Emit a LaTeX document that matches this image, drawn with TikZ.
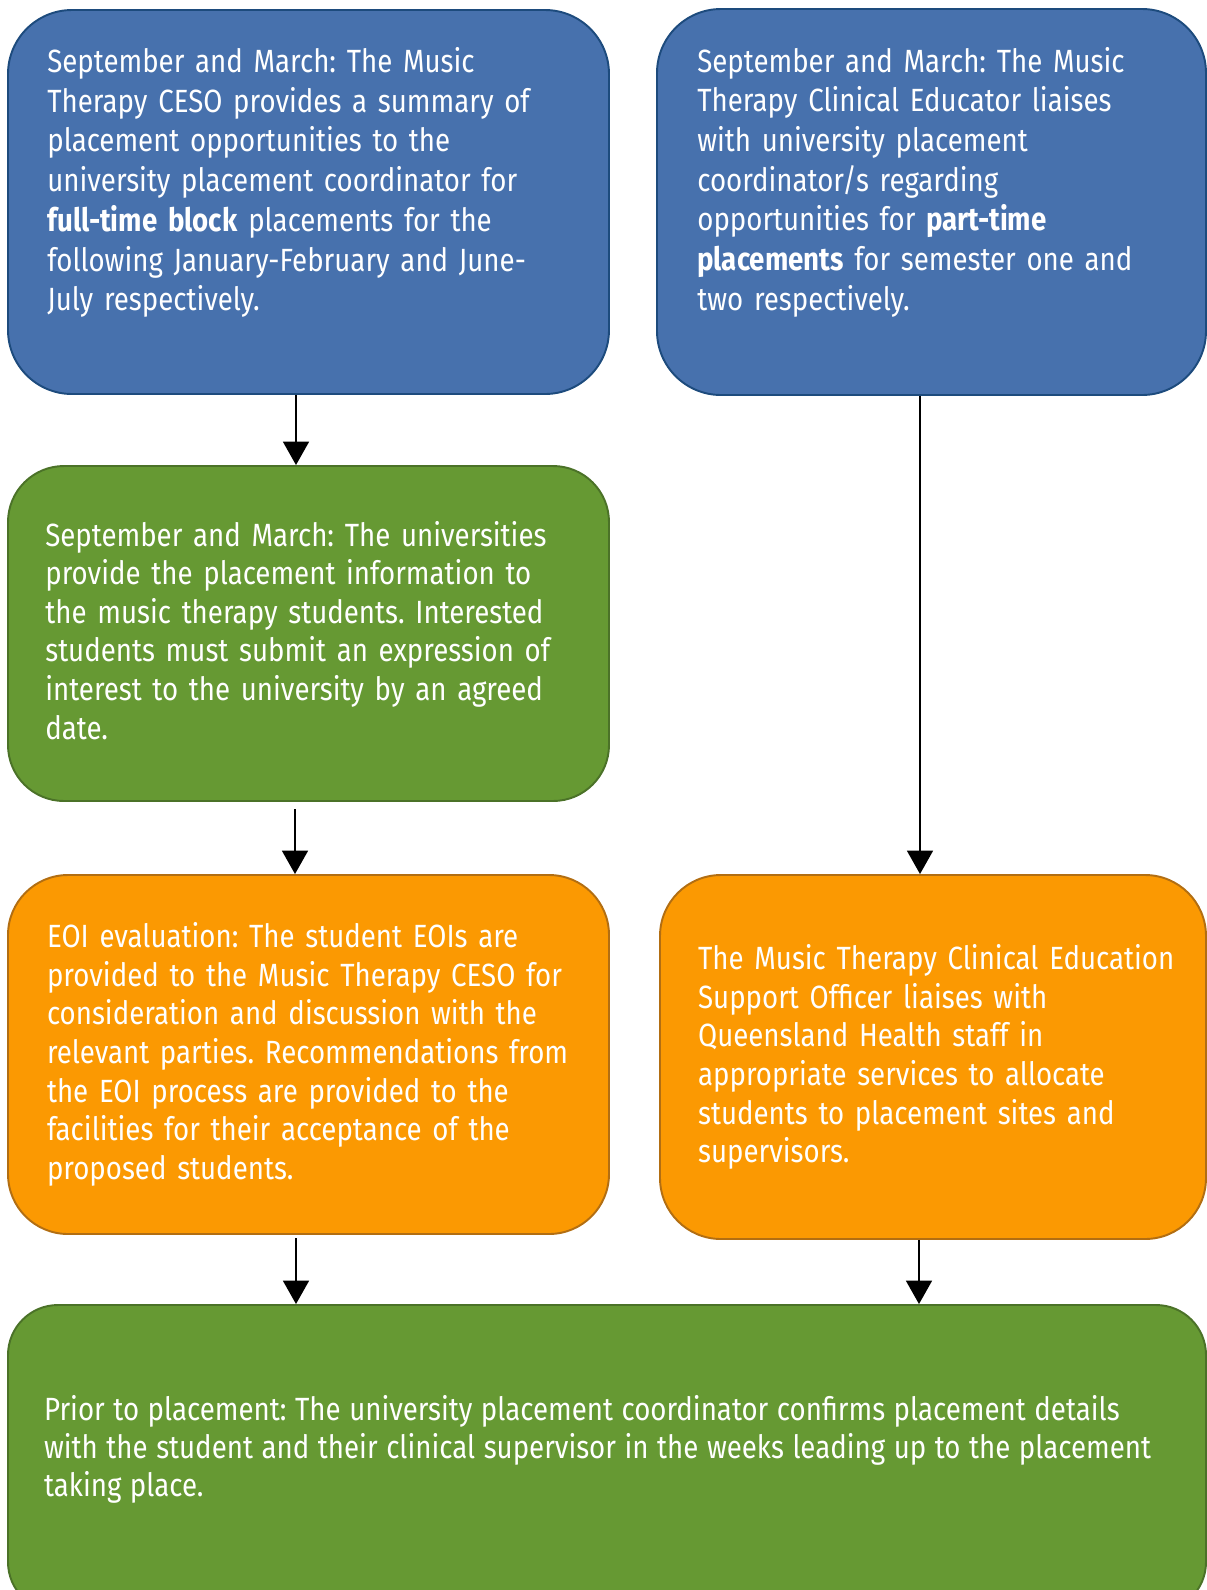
\documentclass[tikz,border=0pt]{standalone}
\usepackage{fontspec}
\setmainfont{Fira Sans}[FakeStretch=0.86]
\frenchspacing
\usetikzlibrary{arrows.meta,fit}
\definecolor{bluefill}{HTML}{4771AD}
\definecolor{blueline}{HTML}{1D4B7D}
\definecolor{greenfill}{HTML}{669933}
\definecolor{greenline}{HTML}{4B7228}
\definecolor{orangefill}{HTML}{FB9902}
\definecolor{orangeline}{HTML}{B26E12}
% body font for the boxes: size and line pitch
\newcommand\boxfont[1]{\fontsize{18.3}{#1}\selectfont\frenchspacing}
\begin{document}
\begin{tikzpicture}[x=0.02cm,y=-0.02cm,
  box/.style={draw, line width=1.1pt, inner sep=0pt},
  bluebox/.style={box, fill=bluefill, draw=blueline},
  greenbox/.style={box, fill=greenfill, draw=greenline},
  orangebox/.style={box, fill=orangefill, draw=orangeline},
  txt/.style={anchor=base west, inner sep=0pt, text=white, align=left,
    text width=13cm, font=\boxfont{22}},
  bluetxt/.style={txt, font=\boxfont{22.6}},
  widetxt/.style={txt, text width=23.5cm, font=\boxfont{21.7},
    execute at begin node={\spaceskip=1.17\fontdimen2\font plus 0.1\fontdimen3\font\relax}},
  arr/.style={line width=1.1pt, -{Triangle[length=0.47cm,width=0.52cm]}}
]
\useasboundingbox (0,0) rectangle (1207,1590);
\clip (0,0) rectangle (1207,1590);

% boxes
\node[bluebox, rounded corners=1.28cm, fit={(8,10) (609,394)}] (b1) {};
\node[bluebox, rounded corners=1.28cm, fit={(657,9) (1206,395)}] (b2) {};
\node[greenbox, rounded corners=1.12cm, fit={(8,466) (609,801)}] (b3) {};
\node[orangebox, rounded corners=1.2cm, fit={(8,875) (609,1234)}] (b4) {};
\node[orangebox, rounded corners=1.22cm, fit={(660,875) (1206,1239)}] (b5) {};
\node[greenbox, rounded corners=1.0cm, fit={(8,1305) (1206,1612)}] (b6) {};

% texts
\node[bluetxt] (t1) at (47,72.5) {September and March: The Music\\
Therapy CESO provides a summary of\\
placement opportunities to the\\
university placement coordinator for\\
\textbf{full-time block} placements for the\\
following January-February and June-\\
July respectively.};

\node[bluetxt] (t2) at (697,72) {September and March: The Music\\
Therapy Clinical Educator liaises\\
with university placement\\
coordinator/s regarding\\
opportunities for \textbf{part-time}\\
\textbf{placements} for semester one and\\
two respectively.};

\node[txt] (t3) at (45,546) {September and March: The universities\\
provide the placement information to\\
the music therapy students. Interested\\
students must submit an expression of\\
interest to the university by an agreed\\
date.};

\node[txt] (t4) at (46.7,947.5) {EOI evaluation: The student EOIs are\\
provided to the Music Therapy CESO for\\
consideration and discussion with the\\
relevant parties. Recommendations from\\
the EOI process are provided to the\\
facilities for their acceptance of the\\
proposed students.};

\node[txt] (t5) at (697.8,969.5) {The Music Therapy Clinical Education\\
Support Officer liaises with\\
Queensland Health staff in\\
appropriate services to allocate\\
students to placement sites and\\
supervisors.};

\node[widetxt] (t6) at (43.7,1420.5) {Prior to placement: The university placement coordinator confirms placement details\\
with the student and their clinical supervisor in the weeks leading up to the placement\\
taking place.};

% connectors
\coordinate (cl) at (296,0);
\coordinate (cr) at (920,0);
\draw[arr] (b1.south -| cl) -- (b3.north -| cl);
\draw[arr, shorten <=4pt] ([xshift=-0.02cm]b3.south -| cl) -- ([xshift=-0.02cm]b4.north -| cl);
\draw[arr] (b2.south -| cr) -- (b5.north -| cr);
\draw[arr, shorten <=2pt] (b4.south -| cl) -- (b6.north -| cl);
\draw[arr] ([xshift=-0.02cm]b5.south -| cr) -- ([xshift=-0.02cm]b6.north -| cr);
\end{tikzpicture}
\end{document}
